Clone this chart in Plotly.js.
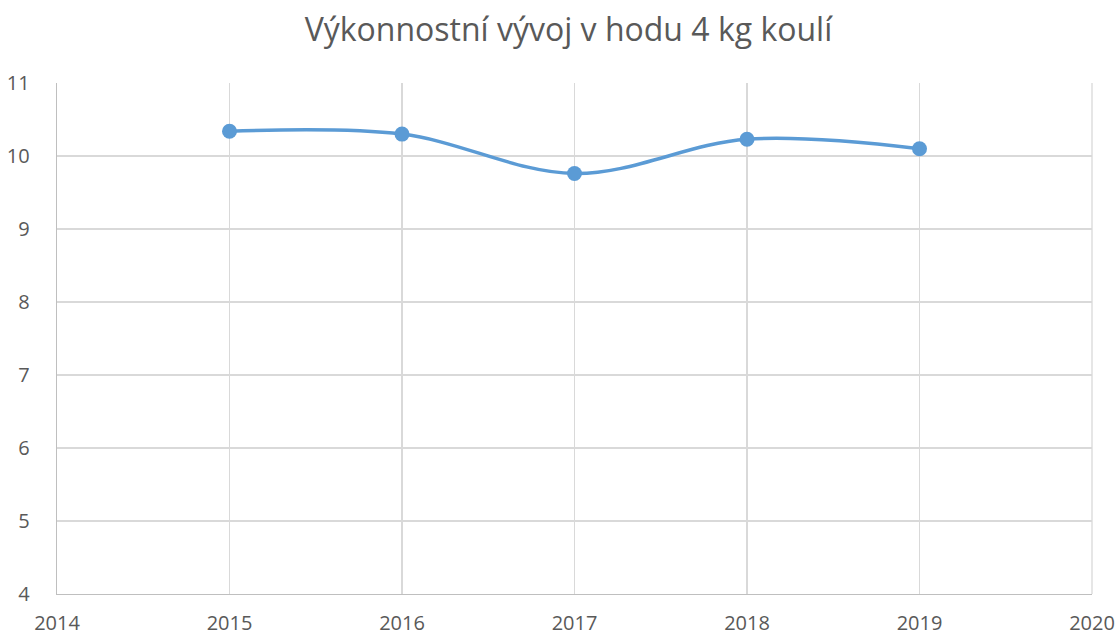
<!DOCTYPE html>
<html>
<head>
<meta charset="utf-8">
<script src="https://cdn.plot.ly/plotly-3.0.1.min.js"></script>
<style>html,body{margin:0;padding:0;background:#fff;}#chart{width:1119px;height:637px;}</style>
</head>
<body>
<div id="chart"></div>
<script>
const years = [2015, 2016, 2017, 2018, 2019];
const distances = [10.34, 10.30, 9.76, 10.23, 10.10];
const chartTitle = "Výkonnostní vývoj v hodu 4 kg koulí";

const trace = {
  x: years,
  y: distances,
  type: "scatter",
  mode: "lines+markers",
  line: {color: "#5B9BD5", width: 3.5, shape: "spline", smoothing: 1},
  marker: {color: "#5B9BD5", size: 15},
  hoverinfo: "x+y"
};

const layout = {
  width: 1119,
  height: 637,
  margin: {l: 57, r: 27, t: 83, b: 43},
  paper_bgcolor: "#fff",
  plot_bgcolor: "#fff",
  font: {family: "Open Sans, Liberation Sans, sans-serif", color: "#595959", size: 20},
  title: {text: chartTitle, font: {size: 32, color: "#595959"}, x: 0.508, xanchor: "center", y: 0.953, yanchor: "middle"},
  showlegend: false,
  xaxis: {
    range: [2014, 2020], dtick: 1, tick0: 2014,
    showgrid: true, gridcolor: "#d9d9d9", gridwidth: 1.3,
    zeroline: false, showline: true, linecolor: "#bfbfbf", linewidth: 1.3,
    ticks: "", ticklabelstandoff: 11, tickfont: {size: 20, color: "#595959"}
  },
  yaxis: {
    range: [4, 11], dtick: 1, tick0: 4,
    showgrid: true, gridcolor: "#d9d9d9", gridwidth: 1.3,
    zeroline: false, showline: true, linecolor: "#bfbfbf", linewidth: 1.3,
    ticks: "", ticklabelstandoff: 22, tickfont: {size: 20, color: "#595959"}
  },
  shapes: [{type: "line", xref: "paper", yref: "paper", x0: 1, x1: 1, y0: 0, y1: 1, line: {color: "#d9d9d9", width: 1.3}}]
};

Plotly.newPlot("chart", [trace], layout, {displayModeBar: false, staticPlot: true});
</script>
</body>
</html>
